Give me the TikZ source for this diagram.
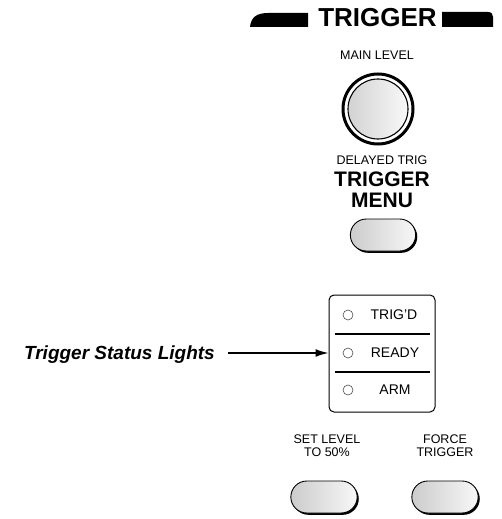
\documentclass[tikz,border=0pt]{standalone}
\usepackage{fontspec}
\setmainfont{Liberation Sans}
\usetikzlibrary{arrows.meta,shapes.misc,shadows}
\begin{document}
\begin{tikzpicture}[x=1pt,y=-1pt,
  lbl/.style={inner sep=0pt, font=\fontsize{12.5}{13}\selectfont, align=center},
  big/.style={inner sep=0pt, font=\fontsize{21}{21}\selectfont\bfseries},
  led/.style={inner sep=0pt, font=\fontsize{14}{14}\selectfont},
  ledlamp/.style={circle, draw=black!70, line width=0.6pt, minimum size=10pt, inner sep=0pt},
  pill/.style={rounded rectangle, draw, line width=0.9pt, minimum width=72pt, minimum height=32pt,
    left color=gray!40, right color=gray!6,
    general shadow={fill=black, shadow xshift=1.6pt, shadow yshift=-1.8pt}},
  divider/.style={line width=1.1pt}]
\useasboundingbox (0,0) rectangle (501,519);

% title
\node[inner sep=0pt, font=\fontsize{26}{26}\selectfont\bfseries] (title) at (377.5,18) {TRIGGER};
\fill (250,27) .. controls (251,17) and (257,13) .. (268,13) -- (308,13) -- (308,27) -- cycle;
\fill (442,12) -- (488,12) .. controls (491.5,12) and (493,14) .. (493,17) -- (493,27) -- (442,27) -- cycle;

% knob
\node[lbl] (mainlevel) at (377,55) {MAIN LEVEL};
\node[circle, draw, line width=3pt, fill=white, minimum size=70pt, inner sep=0pt,
  general shadow={fill=black, shadow xshift=0.8pt, shadow yshift=-0.8pt, shadow scale=1}] (knob) at (378,109) {};
\node[circle, draw, line width=1.1pt, minimum size=60pt, inner sep=0pt,
  left color=gray!35, right color=gray!5] (face) at (knob.center) {};
\node[lbl] (delayed) at (382,160) {DELAYED TRIG};
\node[big] (trigger) at (382,179) {TRIGGER};
\node[big] (menu) at (382,200) {MENU};
\node[pill] (menubtn) at (383,235) {};

% status box
\node[draw, rounded corners=5pt, line width=1pt, minimum width=106pt, minimum height=117pt, inner sep=0pt] (box) at (382,353.5) {};
\draw[divider] (335,334) -- (430,334);
\draw[divider] (335,372) -- (430,372);
\node[ledlamp] (l1) at (348,315) {};
\node[ledlamp] (l2) at (348,353) {};
\node[ledlamp] (l3) at (348,390) {};
\node[led] (trigd) at (394,315) {TRIG'D};
\node[led] (ready) at (395,353) {READY};
\node[led] (arm) at (395,390) {ARM};

% label and arrow
\node[inner sep=0pt, anchor=base east, font=\fontsize{19}{19}\selectfont\bfseries\itshape] (status) at (215,359) {Trigger Status Lights};
\coordinate (astart) at (228,353);
\draw[line width=1.6pt, -{Latex[length=13pt,width=8pt]}] (astart) -- (box.west |- astart);

% bottom buttons
\node[lbl] (setlevel) at (327,446) {SET LEVEL\\TO 50\%};
\node[lbl] (force) at (445,446) {FORCE\\TRIGGER};
\node[pill, minimum width=73pt] (setbtn) at (324,497) {};
\node[pill, minimum width=73pt] (forcebtn) at (445,497) {};
\end{tikzpicture}
\end{document}
